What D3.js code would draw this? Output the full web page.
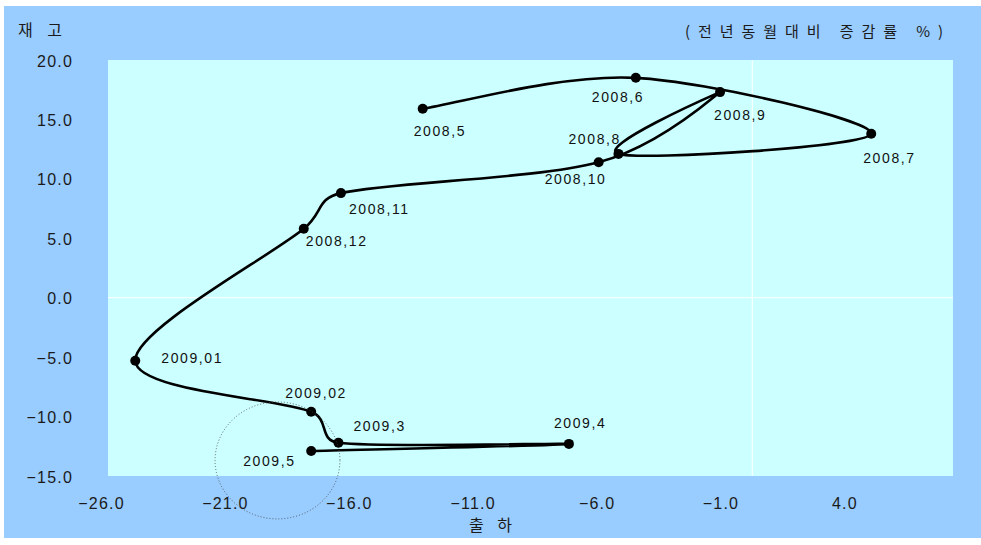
<!DOCTYPE html>
<html><head><meta charset="utf-8">
<script src="https://cdn.jsdelivr.net/npm/d3@7"></script>
<style>body{margin:0;background:#fff}svg{display:block}</style>
</head><body><svg id="c" width="981" height="545"></svg>
<script>
// ---- data ----
const months = ["2008,5","2008,6","2008,7","2008,8","2008,9","2008,10","2008,11","2008,12","2009,01","2009,02","2009,3","2009,4","2009,5"];
const shipment  = [-13.3, -4.7, 4.8, -5.4, -1.3, -6.2, -16.6, -18.1, -24.9, -17.8, -16.7, -7.4, -17.8];
const inventory = [15.9, 18.5, 13.8, 12.1, 17.3, 11.4, 8.8, 5.8, -5.3, -9.6, -12.2, -12.3, -12.9];
const xTicks = [-26, -21, -16, -11, -6, -1, 4];
const yTicks = [20, 15, 10, 5, 0, -5, -10, -15];
const yTitle = "재고";
const xTitle = "출하";
const unitNote = "(전년동월대비 증감률 %)";

// ---- layout (label offsets in px, annotation in data units) ----
const labelOffsets = [[-9,27],[-44,24],[-8,29],[-50,-10],[-6,28],[-54,22],[8,21],[2,17],[26,2],[-26,-14],[15,-12],[-15,-16],[-68,15]];
const annot = {cx: -19.16, cy: -13.69, rx: 2.52, ry: 4.92};

// Spreadsheet-style smoothing: Catmull-Rom tangents with control arms capped by segment length
function SmoothCurve(context) { this._context = context; }
SmoothCurve.prototype = {
  areaStart() {}, areaEnd() {},
  lineStart() { this._p = []; },
  point(px, py) { this._p.push([+px, +py]); },
  lineEnd() {
    const p = this._p, c = this._context, n = p.length, K = 0.5;
    if (!n) return;
    c.moveTo(p[0][0], p[0][1]);
    for (let i = 0; i < n - 1; i++) {
      const p0 = p[Math.max(i - 1, 0)], p1 = p[i], p2 = p[i + 1], p3 = p[Math.min(i + 2, n - 1)];
      const seg = Math.hypot(p2[0] - p1[0], p2[1] - p1[1]), lim = seg * K;
      let t1 = [(p2[0] - p0[0]) / 6, (p2[1] - p0[1]) / 6];
      let t2 = [(p3[0] - p1[0]) / 6, (p3[1] - p1[1]) / 6];
      const l1 = Math.hypot(t1[0], t1[1]), l2 = Math.hypot(t2[0], t2[1]);
      if (l1 > lim) t1 = t1.map(v => v * lim / l1);
      if (l2 > lim) t2 = t2.map(v => v * lim / l2);
      c.bezierCurveTo(p1[0] + t1[0], p1[1] + t1[1], p2[0] - t2[0], p2[1] - t2[1], p2[0], p2[1]);
    }
  }
};
const smoothCurve = ctx => new SmoothCurve(ctx);

const svg = d3.select("#c");
svg.append("rect").attr("width", 981).attr("height", 545).attr("fill", "#fff");
svg.append("rect").attr("x", 4).attr("y", 6).attr("width", 977).attr("height", 532).attr("fill", "#99ccff");

const x = d3.scaleLinear().domain([-26, 8.1]).range([108, 953]);
const y = d3.scaleLinear().domain([-15, 20]).range([476, 60]);

svg.append("rect")
  .attr("x", x(-26)).attr("y", y(20))
  .attr("width", x(8.1) - x(-26)).attr("height", y(-15) - y(20))
  .attr("fill", "#ccffff");

// zero lines
svg.append("line").attr("x1", x(0)).attr("x2", x(0)).attr("y1", y(20)).attr("y2", y(-15))
  .attr("stroke", "#fff").attr("stroke-width", 1);
svg.append("line").attr("x1", x(-26)).attr("x2", x(8.1)).attr("y1", y(0)).attr("y2", y(0))
  .attr("stroke", "#fff").attr("stroke-width", 1);

const numFont = "'Liberation Sans', Arial, sans-serif";
const krFont = "'Noto Sans CJK KR', sans-serif";

// axes
const xa = svg.append("g").attr("transform", `translate(0,${y(-15)})`)
  .call(d3.axisBottom(x).tickValues(xTicks).tickSize(0).tickFormat(d3.format(".1f")));
xa.select(".domain").remove();
xa.selectAll("text").attr("y", 27).attr("dy", "0.35em").attr("dx", -7)
  .attr("font-family", numFont).attr("font-size", 16).attr("letter-spacing", 1.2).attr("fill", "#1a1a1a");

const ya = svg.append("g").attr("transform", `translate(${x(-26)},0)`)
  .call(d3.axisLeft(y).tickValues(yTicks).tickSize(0).tickFormat(d3.format(".1f")));
ya.select(".domain").remove();
ya.selectAll("text").attr("x", -35).attr("dy", "0.38em")
  .attr("font-family", numFont).attr("font-size", 16).attr("letter-spacing", 1.2).attr("fill", "#1a1a1a");

// titles
svg.append("text").attr("x", 18).attr("y", 36).text(yTitle)
  .attr("font-family", krFont).attr("font-size", 16).attr("fill", "#1a1a1a")
  .attr("textLength", 44).attr("lengthAdjust", "spacing");
svg.append("text").attr("x", 685).attr("y", 37).text(unitNote)
  .attr("font-family", krFont).attr("font-size", 15).attr("fill", "#1a1a1a")
  .attr("textLength", 258).attr("lengthAdjust", "spacing");
svg.append("text").attr("x", 469).attr("y", 531).text(xTitle)
  .attr("font-family", krFont).attr("font-size", 16).attr("fill", "#1a1a1a")
  .attr("textLength", 43).attr("lengthAdjust", "spacing");

// line
const pts = months.map((m, i) => ({m, sx: shipment[i], iv: inventory[i], off: labelOffsets[i]}));
const line = d3.line().x(d => x(d.sx)).y(d => y(d.iv)).curve(smoothCurve);
svg.append("path").datum(pts).attr("d", line)
  .attr("fill", "none").attr("stroke", "#000").attr("stroke-width", 2.6)
  .attr("stroke-linejoin", "round").attr("stroke-linecap", "round");

svg.selectAll("circle.pt").data(pts).join("circle").attr("class", "pt")
  .attr("cx", d => x(d.sx)).attr("cy", d => y(d.iv)).attr("r", 5).attr("fill", "#000");

svg.selectAll("text.lbl").data(pts).join("text").attr("class", "lbl")
  .attr("x", d => x(d.sx) + d.off[0]).attr("y", d => y(d.iv) + d.off[1])
  .text(d => d.m)
  .attr("font-family", numFont).attr("font-size", 14).attr("letter-spacing", 1.6).attr("fill", "#111");

// dotted annotation ellipse
svg.append("ellipse")
  .attr("cx", x(annot.cx)).attr("cy", y(annot.cy))
  .attr("rx", x(annot.cx + annot.rx) - x(annot.cx))
  .attr("ry", y(annot.cy) - y(annot.cy + annot.ry))
  .attr("fill", "none").attr("stroke", "#444").attr("stroke-width", 0.8).attr("stroke-dasharray", "1,2");
</script>
</body></html>
